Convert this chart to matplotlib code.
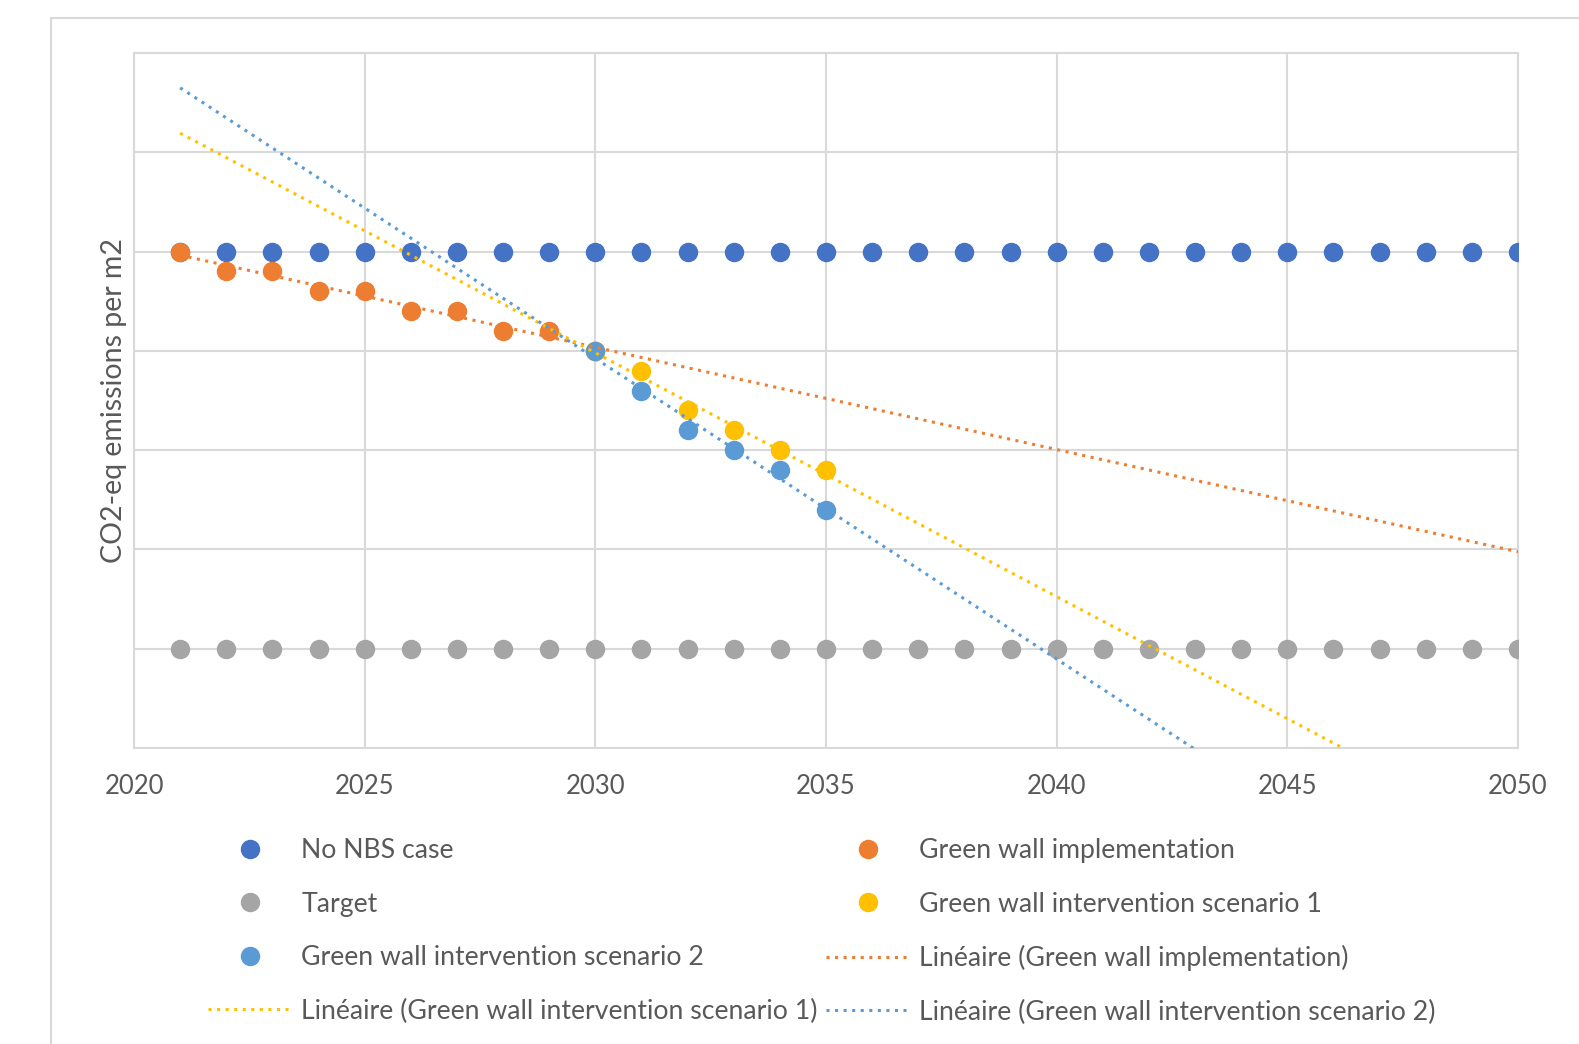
import matplotlib
matplotlib.use("Agg")
import matplotlib.pyplot as plt
from matplotlib.lines import Line2D
import numpy as np

plt.rcParams['font.family'] = ['Lato', 'DejaVu Sans']

years = list(range(2021, 2051))
no_nbs = [5, 5, 5, 5, 5, 5, 5, 5, 5, 5, 5, 5, 5, 5, 5,
          5, 5, 5, 5, 5, 5, 5, 5, 5, 5, 5, 5, 5, 5, 5]
target = [1, 1, 1, 1, 1, 1, 1, 1, 1, 1, 1, 1, 1, 1, 1,
          1, 1, 1, 1, 1, 1, 1, 1, 1, 1, 1, 1, 1, 1, 1]

impl_years = [2021, 2022, 2023, 2024, 2025, 2026, 2027, 2028, 2029, 2030]
impl_vals = [5.0, 4.8, 4.8, 4.6, 4.6, 4.4, 4.4, 4.2, 4.2, 4.0]

scen_years = [2030, 2031, 2032, 2033, 2034, 2035]
scen1_vals = [4.0, 3.8, 3.4, 3.2, 3.0, 2.8]
scen2_vals = [4.0, 3.6, 3.2, 3.0, 2.8, 2.4]

c_blue = '#4472C4'
c_orange = '#ED7D31'
c_gray = '#A5A5A5'
c_yellow = '#FFC000'
c_lblue = '#5B9BD5'
txt = '#595959'

W, H = 1579, 1044
fig = plt.figure(figsize=(W / 100, H / 100), dpi=100)
left, right, top, bottom = 134, 1518, 53, 748
ax = fig.add_axes([left / W, 1 - bottom / H, (right - left) / W, (bottom - top) / H])

ms = 13
h1, = ax.plot(years, no_nbs, 'o', color=c_blue, ms=ms, label='No NBS case', zorder=3)
h2, = ax.plot(impl_years, impl_vals, 'o', color=c_orange, ms=ms, label='Green wall implementation', zorder=3)
h3, = ax.plot(years, target, 'o', color=c_gray, ms=ms, label='Target', zorder=3)
h4, = ax.plot(scen_years, scen1_vals, 'o', color=c_yellow, ms=ms, label='Green wall intervention scenario 1', zorder=3)
h5, = ax.plot(scen_years, scen2_vals, 'o', color=c_lblue, ms=ms, label='Green wall intervention scenario 2', zorder=3)

# linear trend lines, forecast over the whole axis
xt = np.linspace(2021, 2050, 200)
dots = (0, (1, 1.8))
trends = []
for xs, ys, col, name in [(impl_years, impl_vals, c_orange, 'Green wall implementation'),
                          (scen_years, scen1_vals, c_yellow, 'Green wall intervention scenario 1'),
                          (scen_years, scen2_vals, c_lblue, 'Green wall intervention scenario 2')]:
    k, b = np.polyfit(xs, ys, 1)
    h, = ax.plot(xt, k * xt + b, linestyle=dots, color=col, lw=2.2, zorder=4,
                 label='Linéaire (' + name + ')')
    trends.append(h)

ax.set_xlim(2020, 2050)
ax.set_ylim(0, 7)
ax.set_xticks([2020, 2025, 2030, 2035, 2040, 2045, 2050])
ax.set_yticks(range(0, 8))
ax.set_yticklabels([])
ax.grid(True, color='#D9D9D9', lw=1.5)
ax.set_axisbelow(True)
for s in ax.spines.values():
    s.set_color('#D9D9D9')
    s.set_linewidth(1.5)
ax.tick_params(length=0, labelsize=18.5, labelcolor=txt, pad=19)
ax.set_ylabel('CO2-eq emissions per m2', fontsize=20.5, color=txt)
ax.yaxis.set_label_coords(-7 / (right - left), 0.5)

# outer chart frame
fx, fy = 50.5 / W, 1 - 18 / H
fig.add_artist(Line2D([fx, fx], [0, fy], color='#D9D9D9', lw=1.5))
fig.add_artist(Line2D([fx, 1], [fy, fy], color='#D9D9D9', lw=1.5))

# legend, row-major order like Excel
handles = [h1, h3, h5, trends[1], h2, h4, trends[0], trends[2]]
fig.legend(handles=handles, labels=[h.get_label() for h in handles], ncol=2,
           loc='upper left', bbox_to_anchor=(208 / W, 1 - 838 / H), frameon=False,
           fontsize=19.2, labelcolor=txt, handlelength=3.15, handletextpad=0.35,
           columnspacing=0.3, labelspacing=1.07, borderpad=0, borderaxespad=0,
           markerscale=1.0)

fig.savefig('out.png', dpi=100)
